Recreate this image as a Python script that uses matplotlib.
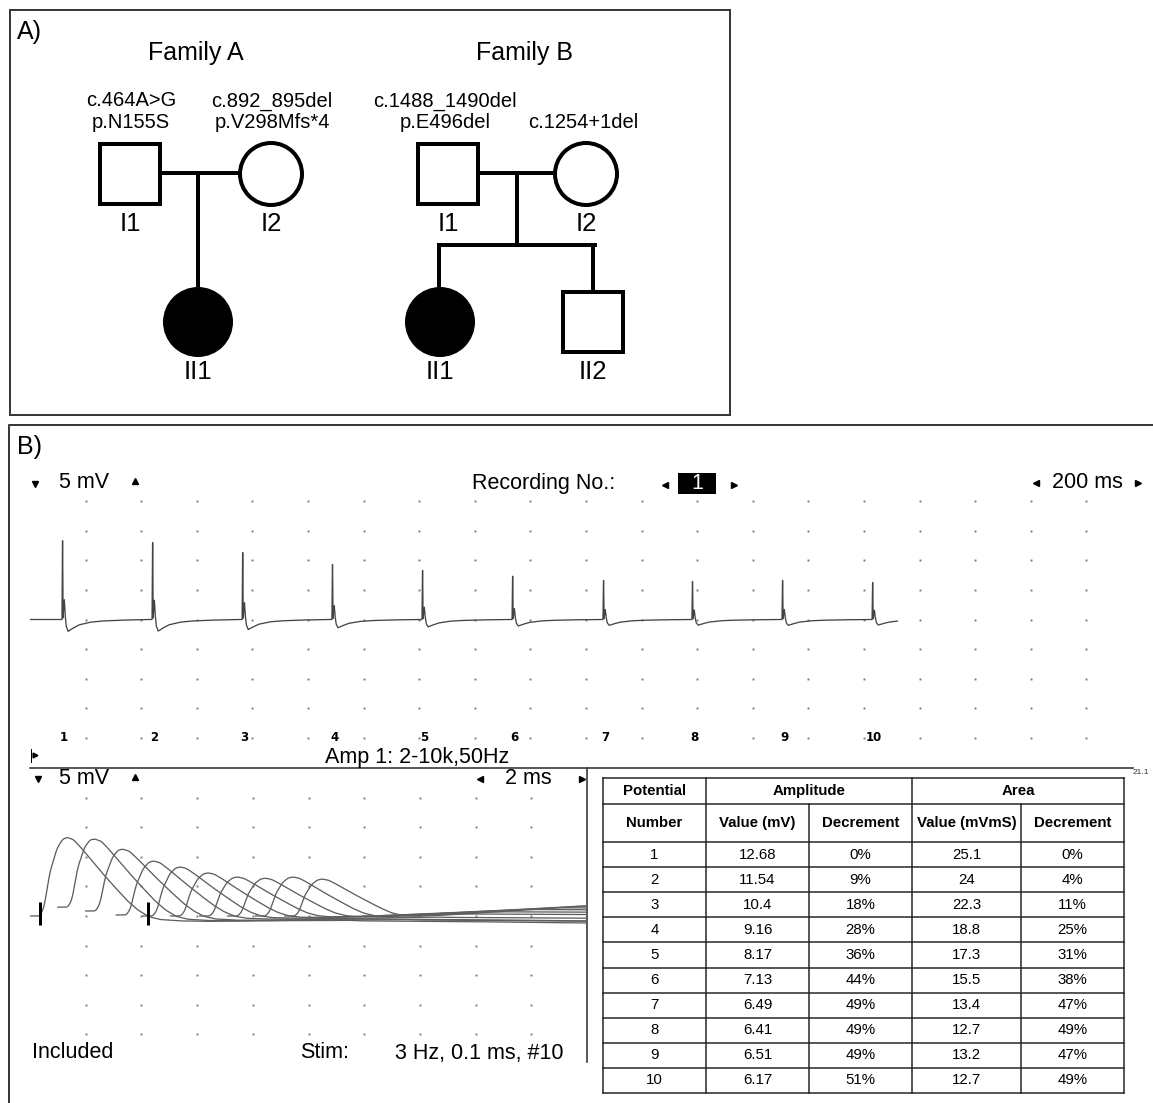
import numpy as np
import matplotlib
matplotlib.use("Agg")
import matplotlib.pyplot as plt
from matplotlib.patches import Rectangle, Circle

plt.rcParams['font.family'] = ['Liberation Sans', 'DejaVu Sans']

# ---------------- data ----------------
family_names = ["Family A", "Family B"]
famA_members = ["I1", "I2", "II1"]
famA_sex = ["M", "F", "F"]
famA_affected = [False, False, True]
famA_variants = [["c.464A>G", "p.N155S"], ["c.892_895del", "p.V298Mfs*4"], []]
famB_members = ["I1", "I2", "II1", "II2"]
famB_sex = ["M", "F", "F", "M"]
famB_affected = [False, False, True, False]
famB_variants = [["c.1488_1490del", "p.E496del"], ["c.1254+1del"], [], []]

potential_number = [1, 2, 3, 4, 5, 6, 7, 8, 9, 10]
amp_value_mv = [12.68, 11.54, 10.4, 9.16, 8.17, 7.13, 6.49, 6.41, 6.51, 6.17]
amp_decrement = ["0%", "9%", "18%", "28%", "36%", "44%", "49%", "49%", "49%", "51%"]
area_value_mvms = [25.1, 24, 22.3, 18.8, 17.3, 15.5, 13.4, 12.7, 13.2, 12.7]
area_decrement = ["0%", "4%", "11%", "25%", "31%", "38%", "47%", "49%", "47%", "49%"]
header_top = ["Potential", "Amplitude", "Area"]
header_sub = ["Number", "Value (mV)", "Decrement", "Value (mVmS)", "Decrement"]

# displayed peak heights of the 10 responses (mV)
trace_peak_mv = [13.3, 13.0, 11.3, 9.3, 8.3, 7.3, 6.6, 6.4, 6.6, 6.25]
# train view (200 ms/div)
stim_times_ms = [115, 439, 763, 1086, 1410, 1734, 2061, 2381, 2705, 3029]
train_end_ms = 3120
spike_tau_ms = [-4, 0, 1.6, 2.4, 4.0, 6, 8.5, 11, 15, 22, 35, 60, 100, 140, 200, 300]
spike_shape = [0, 0, 1.0, 1.0, 0.02, 0.12, 0.25, 0.08, -0.08, -0.15, -0.12, -0.07, -0.035, -0.02, -0.01, 0]
# superimposed view (2 ms/div)
sweep_start_ms = [0, 1.0, 2.0, 3.1, 4.05, 5.05, 6.1, 7.1, 8.1, 9.15]
onset_delay_ms = 0.36
cmap_tau_ms = [-1, 0, 0.15, 0.35, 0.6, 0.8, 0.97, 1.2, 1.44, 1.8, 2.15, 2.6, 3.12, 3.5, 3.88,
               4.3, 5.0, 6.0, 8.0, 11.0, 15.0, 20.0]
cmap_shape = [0, 0, 0.12, 0.55, 0.85, 0.97, 1.0, 0.97, 0.88, 0.73, 0.58, 0.4, 0.2, 0.08, 0.0,
              -0.035, -0.045, -0.04, -0.01, 0.03, 0.02, 0.0]
pre_baseline_mv = [0, 1.5, 0.85, 0.17, 0, 0, 0, 0, 0, 0]
tail_drift_mv = [-1.2, -0.9, -1.0, -0.5, 0.1, 0.5, 0.9, 1.2, 1.5, 1.8]
cursor_ms = [0.36, 4.24]

# ---------------- figure ----------------
W, H = 1153, 1103
fig = plt.figure(figsize=(W / 100, H / 100), dpi=100)
bg = fig.add_axes([0, 0, 1, 1])
bg.set_xlim(0, W)
bg.set_ylim(H, 0)
bg.axis('off')

PX = 0.72  # points per pixel
border_c = '#3a3a3a'


def px_axes(x0, y0, x1, y1):
    ax = fig.add_axes([x0 / W, 1 - y1 / H, (x1 - x0) / W, (y1 - y0) / H])
    ax.axis('off')
    return ax


# ---------------- Panel A ----------------
bg.add_patch(Rectangle((10, 10), 720, 405, fill=False, lw=2 * PX, ec=border_c))
bg.text(17, 32, "A)", fontsize=18, ha='left', va='center')

famA_pos = {"I1": (130, 174), "I2": (271, 174), "II1": (198, 322)}
famB_pos = {"I1": (448, 174), "I2": (586, 174), "II1": (440, 322), "II2": (593, 322)}
title_pos = [(196, 53), (525, 53)]
LW = 4 * PX
SQ = 60
R = 31
RF = 35


def draw_member(pos, sex, affected, label):
    x, y = pos
    if sex == "M":
        bg.add_patch(Rectangle((x - SQ / 2, y - SQ / 2), SQ, SQ, fill=affected,
                               fc='black' if affected else 'white', ec='black', lw=LW))
    else:
        if affected:
            bg.add_patch(Circle((x, y), RF, fc='black', ec='none'))
        else:
            bg.add_patch(Circle((x, y), R, fc='white', ec='black', lw=LW))
    bg.text(x, y + 50, label, fontsize=18.5, ha='center', va='center')


def draw_variants(x, lines):
    n = len(lines)
    for i, s in enumerate(lines):
        bg.text(x, 123 - 22 * (n - 1 - i), s, fontsize=14.5, ha='center', va='center')


for (tx, ty), name in zip(title_pos, family_names):
    bg.text(tx, ty, name, fontsize=18, ha='center', va='center')

# Family A lines
a1, a2, ac = famA_pos["I1"], famA_pos["I2"], famA_pos["II1"]
bg.plot([a1[0] + SQ / 2, a2[0] - R], [a1[1] - 1, a2[1] - 1], color='black', lw=LW, solid_capstyle='butt')
bg.plot([ac[0], ac[0]], [a1[1] - 1, ac[1] - RF], color='black', lw=LW, solid_capstyle='butt')
for m, s, a, v in zip(famA_members, famA_sex, famA_affected, famA_variants):
    draw_member(famA_pos[m], s, a, m)
    if v:
        draw_variants(famA_pos[m][0] + 1, v)

# Family B lines
b1, b2, bc1, bc2 = famB_pos["I1"], famB_pos["I2"], famB_pos["II1"], famB_pos["II2"]
mid = (b1[0] + SQ / 2 + b2[0] - R) / 2
sib_y = 245
bg.plot([b1[0] + SQ / 2, b2[0] - R], [b1[1] - 1, b2[1] - 1], color='black', lw=LW, solid_capstyle='butt')
bg.plot([mid, mid], [b1[1] - 1, sib_y], color='black', lw=LW, solid_capstyle='butt')
bg.plot([bc1[0] - 1, bc2[0] + 1.5], [sib_y, sib_y], color='black', lw=LW, solid_capstyle='projecting')
bg.plot([bc1[0] - 1, bc1[0] - 1], [sib_y, bc1[1] - RF], color='black', lw=LW, solid_capstyle='butt')
bg.plot([bc2[0], bc2[0]], [sib_y, bc2[1] - SQ / 2], color='black', lw=LW, solid_capstyle='butt')
for m, s, a, v in zip(famB_members, famB_sex, famB_affected, famB_variants):
    draw_member(famB_pos[m], s, a, m)
    if v:
        draw_variants(famB_pos[m][0] - 3, v)

# ---------------- Panel B frame & labels ----------------
bg.plot([9, 9, W], [H, 425, 425], color=border_c, lw=2 * PX)
bg.text(17, 447, "B)", fontsize=18, ha='left', va='center')

FS = 15.5
tri = dict(color='black', ls='none', ms=5)
# upper header
bg.plot([35], [484], marker='v', **tri)
bg.text(59, 483, "5 mV", fontsize=FS, ha='left', va='center')
bg.plot([135], [481], marker='^', **tri)
bg.text(472, 483, "Recording No.:", fontsize=FS, ha='left', va='center')
bg.plot([665], [485], marker='<', **tri)
bg.add_patch(Rectangle((678, 473), 38, 21, fc='black', ec='none'))
bg.text(697, 483.5, "1", fontsize=FS, color='white', ha='center', va='center')
bg.plot([734], [485], marker='>', **tri)
bg.plot([1036], [483], marker='<', **tri)
bg.text(1052, 483, "200 ms", fontsize=FS, ha='left', va='center')
bg.plot([1138], [483], marker='>', **tri)

bg.text(417, 757, "Amp 1: 2-10k,50Hz", fontsize=FS, ha='center', va='center')
bg.plot([31, 31], [749, 762], color='black', lw=1.0 * PX)
bg.plot([34.5], [755], marker='>', color='black', ls='none', ms=3.5)
bg.plot([30, 1133], [768, 768], color='#333333', lw=1.6 * PX)
bg.text(1141, 772, "21.1", fontsize=6, ha='center', va='center', color='#333333')

# lower header / footer
bg.plot([38], [779], marker='v', **tri)
bg.text(59, 778, "5 mV", fontsize=FS, ha='left', va='center')
bg.plot([135], [777], marker='^', **tri)
bg.plot([480], [779], marker='<', **tri)
bg.text(505, 778, "2 ms", fontsize=FS, ha='left', va='center')
bg.plot([582], [779], marker='>', **tri)
bg.plot([587, 587], [768, 1062], color='#333333', lw=1.6 * PX)
bg.text(32, 1053, "Included", fontsize=FS, ha='left', va='center')
bg.text(300, 1053, "Stim:", fontsize=FS, ha='left', va='center')
bg.text(395, 1053, "3 Hz, 0.1 ms, #10", fontsize=FS, ha='left', va='center')

dot_c = '#7a7a7a'

# ---------------- upper: train of 10 responses ----------------
ax_up = px_axes(30, 471.5, 1142, 767.5)
ax_up.set_xlim(0, 4000)
ax_up.set_ylim(-25, 25)
gx, gy = np.meshgrid(np.arange(200, 4000, 200), np.arange(-20, 21, 5))
ax_up.plot(gx.ravel(), gy.ravel(), ls='none', marker='s', ms=1.4, color=dot_c, mec='none', zorder=1)
t_up = np.arange(0, train_end_ms, 0.1)
v_up = np.zeros_like(t_up)
for st, pk in zip(stim_times_ms, trace_peak_mv):
    v_up += pk * np.interp(t_up - st, spike_tau_ms, spike_shape, left=0, right=0)
ax_up.plot(t_up, v_up, color='#444444', lw=1.3 * PX, zorder=3)
for st, n in zip(stim_times_ms, potential_number):
    ax_up.text(st + 8, -20, str(n), fontsize=8.5, fontweight='bold', family='DejaVu Sans',
               ha='center', va='center', zorder=4)

# ---------------- lower: superimposed responses ----------------
ax_lo = px_axes(30, 768, 587, 1064)
ax_lo.set_xlim(0, 20)
ax_lo.set_ylim(-25, 25)
gx, gy = np.meshgrid(np.arange(2, 20, 2), np.arange(-20, 21, 5))
ax_lo.plot(gx.ravel(), gy.ravel(), ls='none', marker='s', ms=1.4, color=dot_c, mec='none', zorder=1)
t_lo = np.arange(0, 20.001, 0.01)
K = 13
for s0, pk, pre, drift in zip(sweep_start_ms, trace_peak_mv, pre_baseline_mv, tail_drift_mv):
    tau = t_lo - s0 - onset_delay_ms
    v = pk * np.interp(tau, cmap_tau_ms, cmap_shape, left=0, right=cmap_shape[-1])
    v += pre * np.clip(1 - tau / 0.97, 0, 1)
    v += drift * np.clip((tau - 3.5) / 8.0, 0, 1)
    v = np.convolve(np.pad(v, K // 2, mode='edge'), np.ones(K) / K, mode='valid')
    v = np.where(t_lo >= s0, v, np.nan)
    ax_lo.plot(t_lo, v, color='#5e5e5e', lw=1.3 * PX, zorder=3)
ax_lo.vlines(cursor_ms, -1.5, 2.4, color='black', lw=3 * PX, zorder=4)

# ---------------- table ----------------
col_edges = [603, 706, 809, 912, 1021, 1124]
row_top, row_h1, row_h2 = 778, 804, 842
row_h = 25.1
n_rows = len(potential_number)
row_bottom = row_h2 + n_rows * row_h
tl = dict(color='#222222', lw=1.5 * PX)
for yy in [row_top, row_h1] + [row_h2 + i * row_h for i in range(n_rows + 1)]:
    bg.plot([col_edges[0], col_edges[-1]], [yy, yy], **tl)
for i, xx in enumerate(col_edges):
    y_start = row_h1 if i in (2, 4) else row_top
    bg.plot([xx, xx], [y_start, row_bottom], **tl)
TFS = 10.8
cx = [(col_edges[i] + col_edges[i + 1]) / 2 for i in range(5)]
top_x = [cx[0], (col_edges[1] + col_edges[3]) / 2, (col_edges[3] + col_edges[5]) / 2]
for x, s in zip(top_x, header_top):
    bg.text(x, (row_top + row_h1) / 2, s, fontsize=TFS, fontweight='bold', ha='center', va='center')
for x, s in zip(cx, header_sub):
    bg.text(x, (row_h1 + row_h2) / 2, s, fontsize=TFS, fontweight='bold', ha='center', va='center')
for i in range(n_rows):
    yy = row_h2 + (i + 0.5) * row_h
    vals = [str(potential_number[i]), f"{amp_value_mv[i]:g}", amp_decrement[i],
            f"{area_value_mvms[i]:g}", area_decrement[i]]
    for x, s in zip(cx, vals):
        bg.text(x, yy, s, fontsize=TFS, ha='center', va='center')

fig.savefig("out.png", dpi=100)
